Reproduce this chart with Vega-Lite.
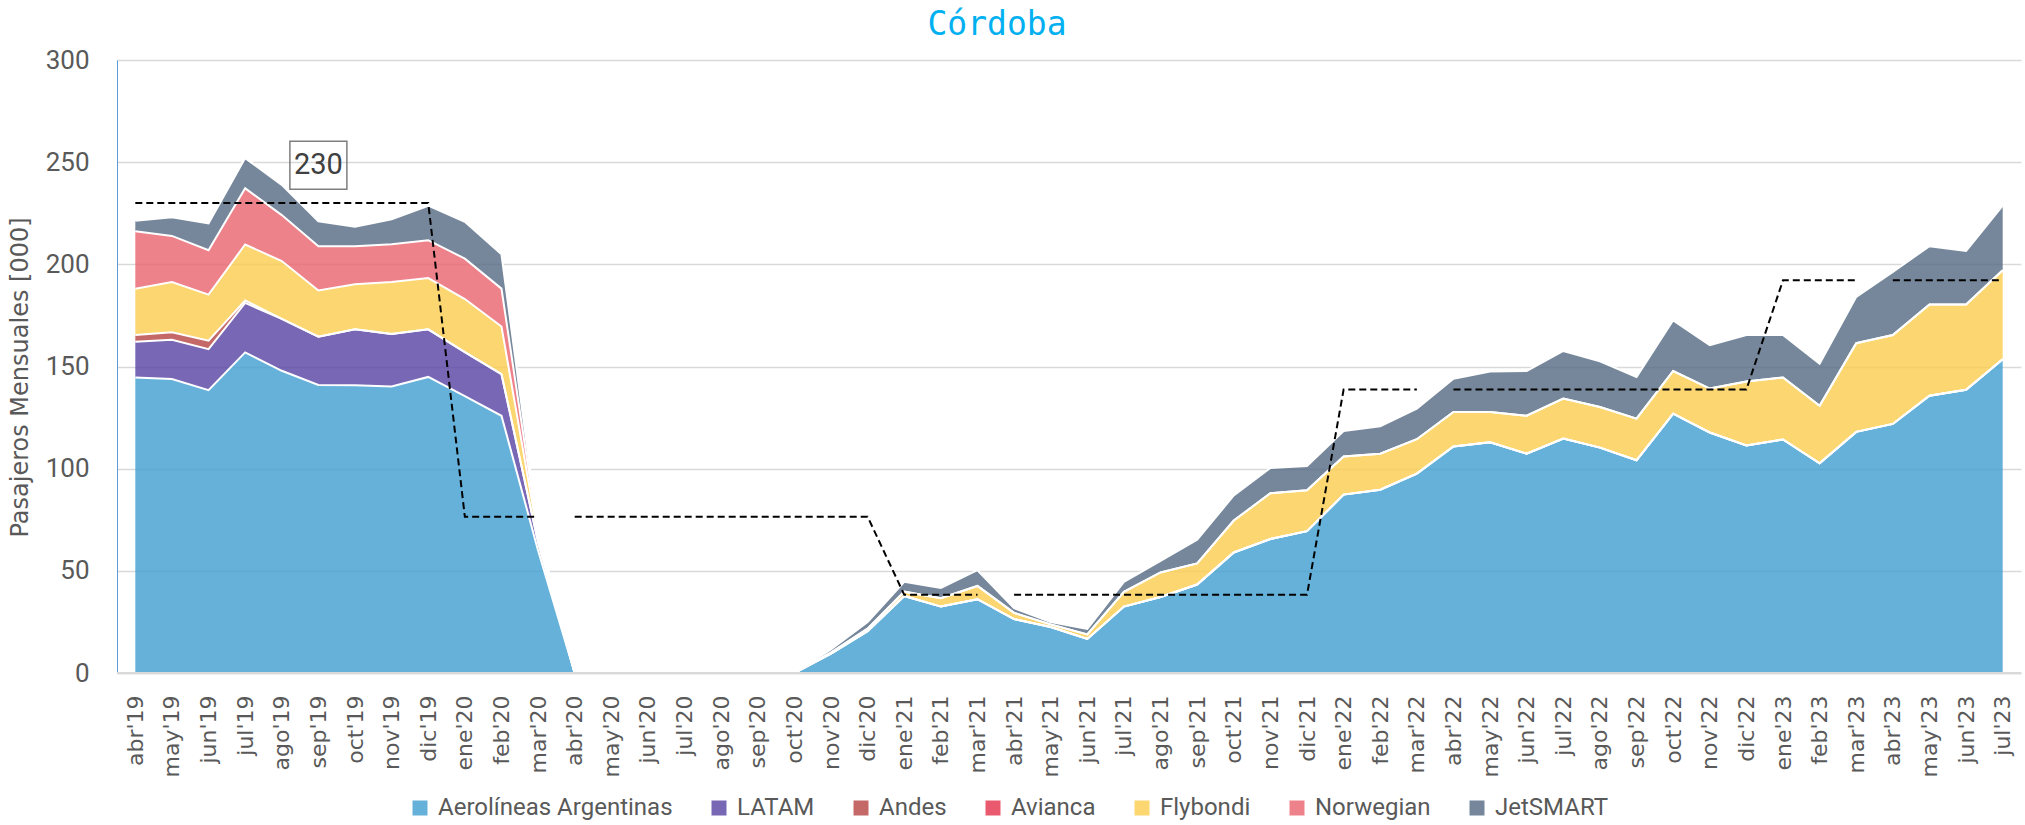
{
"$schema": "https://vega.github.io/schema/vega-lite/v6.json",
"width": 1904,
"height": 613,
"autosize": {"type": "none"},
"padding": {"left": 117, "top": 60, "right": 4, "bottom": 152},
"background": "white",
"title": {"text": "Córdoba", "font": "DejaVu Sans Mono", "fontSize": 33, "fontWeight": "normal", "color": "#00B0F0", "anchor": "middle", "frame": "group", "offset": 5, "dx": -72},
"config": {"view": {"stroke": null}},
"layer": [
{
"data": {"values": [
{"m":"abr'19","s":"Aerolíneas Argentinas","o":1,"v":144.6},
{"m":"may'19","s":"Aerolíneas Argentinas","o":1,"v":143.9},
{"m":"jun'19","s":"Aerolíneas Argentinas","o":1,"v":138.4},
{"m":"jul'19","s":"Aerolíneas Argentinas","o":1,"v":156.9},
{"m":"ago'19","s":"Aerolíneas Argentinas","o":1,"v":147.9},
{"m":"sep'19","s":"Aerolíneas Argentinas","o":1,"v":141.0},
{"m":"oct'19","s":"Aerolíneas Argentinas","o":1,"v":140.8},
{"m":"nov'19","s":"Aerolíneas Argentinas","o":1,"v":140.2},
{"m":"dic'19","s":"Aerolíneas Argentinas","o":1,"v":144.9},
{"m":"ene'20","s":"Aerolíneas Argentinas","o":1,"v":135.5},
{"m":"feb'20","s":"Aerolíneas Argentinas","o":1,"v":125.9},
{"m":"mar'20","s":"Aerolíneas Argentinas","o":1,"v":60},
{"m":"abr'20","s":"Aerolíneas Argentinas","o":1,"v":0},
{"m":"may'20","s":"Aerolíneas Argentinas","o":1,"v":0},
{"m":"jun'20","s":"Aerolíneas Argentinas","o":1,"v":0},
{"m":"jul'20","s":"Aerolíneas Argentinas","o":1,"v":0},
{"m":"ago'20","s":"Aerolíneas Argentinas","o":1,"v":0},
{"m":"sep'20","s":"Aerolíneas Argentinas","o":1,"v":0},
{"m":"oct'20","s":"Aerolíneas Argentinas","o":1,"v":0},
{"m":"nov'20","s":"Aerolíneas Argentinas","o":1,"v":9.5},
{"m":"dic'20","s":"Aerolíneas Argentinas","o":1,"v":20.5},
{"m":"ene'21","s":"Aerolíneas Argentinas","o":1,"v":37.7},
{"m":"feb'21","s":"Aerolíneas Argentinas","o":1,"v":32.5},
{"m":"mar'21","s":"Aerolíneas Argentinas","o":1,"v":36.1},
{"m":"abr'21","s":"Aerolíneas Argentinas","o":1,"v":26.4},
{"m":"may'21","s":"Aerolíneas Argentinas","o":1,"v":22.5},
{"m":"jun'21","s":"Aerolíneas Argentinas","o":1,"v":16.7},
{"m":"jul'21","s":"Aerolíneas Argentinas","o":1,"v":32.5},
{"m":"ago'21","s":"Aerolíneas Argentinas","o":1,"v":37.2},
{"m":"sep'21","s":"Aerolíneas Argentinas","o":1,"v":43.3},
{"m":"oct'21","s":"Aerolíneas Argentinas","o":1,"v":59.0},
{"m":"nov'21","s":"Aerolíneas Argentinas","o":1,"v":65.6},
{"m":"dic'21","s":"Aerolíneas Argentinas","o":1,"v":69.4},
{"m":"ene'22","s":"Aerolíneas Argentinas","o":1,"v":87.3},
{"m":"feb'22","s":"Aerolíneas Argentinas","o":1,"v":89.7},
{"m":"mar'22","s":"Aerolíneas Argentinas","o":1,"v":97.6},
{"m":"abr'22","s":"Aerolíneas Argentinas","o":1,"v":110.9},
{"m":"may'22","s":"Aerolíneas Argentinas","o":1,"v":112.9},
{"m":"jun'22","s":"Aerolíneas Argentinas","o":1,"v":107.3},
{"m":"jul'22","s":"Aerolíneas Argentinas","o":1,"v":114.7},
{"m":"ago'22","s":"Aerolíneas Argentinas","o":1,"v":110.3},
{"m":"sep'22","s":"Aerolíneas Argentinas","o":1,"v":104.1},
{"m":"oct'22","s":"Aerolíneas Argentinas","o":1,"v":126.9},
{"m":"nov'22","s":"Aerolíneas Argentinas","o":1,"v":117.7},
{"m":"dic'22","s":"Aerolíneas Argentinas","o":1,"v":111.4},
{"m":"ene'23","s":"Aerolíneas Argentinas","o":1,"v":114.3},
{"m":"feb'23","s":"Aerolíneas Argentinas","o":1,"v":102.6},
{"m":"mar'23","s":"Aerolíneas Argentinas","o":1,"v":118.0},
{"m":"abr'23","s":"Aerolíneas Argentinas","o":1,"v":121.9},
{"m":"may'23","s":"Aerolíneas Argentinas","o":1,"v":135.7},
{"m":"jun'23","s":"Aerolíneas Argentinas","o":1,"v":138.6},
{"m":"jul'23","s":"Aerolíneas Argentinas","o":1,"v":153.6},
{"m":"abr'19","s":"LATAM","o":2,"v":17.5},
{"m":"may'19","s":"LATAM","o":2,"v":19.2},
{"m":"jun'19","s":"LATAM","o":2,"v":20.1},
{"m":"jul'19","s":"LATAM","o":2,"v":24.2},
{"m":"ago'19","s":"LATAM","o":2,"v":25.4},
{"m":"sep'19","s":"LATAM","o":2,"v":23.6},
{"m":"oct'19","s":"LATAM","o":2,"v":27.4},
{"m":"nov'19","s":"LATAM","o":2,"v":25.7},
{"m":"dic'19","s":"LATAM","o":2,"v":23.3},
{"m":"ene'20","s":"LATAM","o":2,"v":21.5},
{"m":"feb'20","s":"LATAM","o":2,"v":20.4},
{"m":"mar'20","s":"LATAM","o":2,"v":4},
{"m":"abr'20","s":"LATAM","o":2,"v":0},
{"m":"abr'19","s":"Andes","o":3,"v":3.3},
{"m":"may'19","s":"Andes","o":3,"v":3.6},
{"m":"jun'19","s":"Andes","o":3,"v":4.1},
{"m":"jul'19","s":"Andes","o":3,"v":1.2},
{"m":"ago'19","s":"Andes","o":3,"v":0},
{"m":"abr'19","s":"Flybondi","o":5,"v":22.6},
{"m":"may'19","s":"Flybondi","o":5,"v":24.6},
{"m":"jun'19","s":"Flybondi","o":5,"v":22.6},
{"m":"jul'19","s":"Flybondi","o":5,"v":27.4},
{"m":"ago'19","s":"Flybondi","o":5,"v":28.3},
{"m":"sep'19","s":"Flybondi","o":5,"v":22.6},
{"m":"oct'19","s":"Flybondi","o":5,"v":22.0},
{"m":"nov'19","s":"Flybondi","o":5,"v":25.4},
{"m":"dic'19","s":"Flybondi","o":5,"v":25.1},
{"m":"ene'20","s":"Flybondi","o":5,"v":26.0},
{"m":"feb'20","s":"Flybondi","o":5,"v":23.3},
{"m":"mar'20","s":"Flybondi","o":5,"v":3},
{"m":"abr'20","s":"Flybondi","o":5,"v":0},
{"m":"may'20","s":"Flybondi","o":5,"v":0},
{"m":"jun'20","s":"Flybondi","o":5,"v":0},
{"m":"jul'20","s":"Flybondi","o":5,"v":0},
{"m":"ago'20","s":"Flybondi","o":5,"v":0},
{"m":"sep'20","s":"Flybondi","o":5,"v":0},
{"m":"oct'20","s":"Flybondi","o":5,"v":0},
{"m":"nov'20","s":"Flybondi","o":5,"v":0.5},
{"m":"dic'20","s":"Flybondi","o":5,"v":1.2},
{"m":"ene'21","s":"Flybondi","o":5,"v":2.1},
{"m":"feb'21","s":"Flybondi","o":5,"v":4.1},
{"m":"mar'21","s":"Flybondi","o":5,"v":6.5},
{"m":"abr'21","s":"Flybondi","o":5,"v":3.0},
{"m":"may'21","s":"Flybondi","o":5,"v":1.3},
{"m":"jun'21","s":"Flybondi","o":5,"v":2.2},
{"m":"jul'21","s":"Flybondi","o":5,"v":7.2},
{"m":"ago'21","s":"Flybondi","o":5,"v":12.0},
{"m":"sep'21","s":"Flybondi","o":5,"v":10.3},
{"m":"oct'21","s":"Flybondi","o":5,"v":15.6},
{"m":"nov'21","s":"Flybondi","o":5,"v":22.4},
{"m":"dic'21","s":"Flybondi","o":5,"v":20.0},
{"m":"ene'22","s":"Flybondi","o":5,"v":18.7},
{"m":"feb'22","s":"Flybondi","o":5,"v":17.6},
{"m":"mar'22","s":"Flybondi","o":5,"v":16.8},
{"m":"abr'22","s":"Flybondi","o":5,"v":16.8},
{"m":"may'22","s":"Flybondi","o":5,"v":14.8},
{"m":"jun'22","s":"Flybondi","o":5,"v":18.6},
{"m":"jul'22","s":"Flybondi","o":5,"v":19.6},
{"m":"ago'22","s":"Flybondi","o":5,"v":19.9},
{"m":"sep'22","s":"Flybondi","o":5,"v":20.4},
{"m":"oct'22","s":"Flybondi","o":5,"v":20.9},
{"m":"nov'22","s":"Flybondi","o":5,"v":21.5},
{"m":"dic'22","s":"Flybondi","o":5,"v":31.3},
{"m":"ene'23","s":"Flybondi","o":5,"v":30.3},
{"m":"feb'23","s":"Flybondi","o":5,"v":28.2},
{"m":"mar'23","s":"Flybondi","o":5,"v":43.4},
{"m":"abr'23","s":"Flybondi","o":5,"v":43.5},
{"m":"may'23","s":"Flybondi","o":5,"v":44.7},
{"m":"jun'23","s":"Flybondi","o":5,"v":41.8},
{"m":"jul'23","s":"Flybondi","o":5,"v":43.5},
{"m":"abr'19","s":"Norwegian","o":6,"v":28.2},
{"m":"may'19","s":"Norwegian","o":6,"v":22.6},
{"m":"jun'19","s":"Norwegian","o":6,"v":21.7},
{"m":"jul'19","s":"Norwegian","o":6,"v":27.5},
{"m":"ago'19","s":"Norwegian","o":6,"v":22.5},
{"m":"sep'19","s":"Norwegian","o":6,"v":21.7},
{"m":"oct'19","s":"Norwegian","o":6,"v":18.7},
{"m":"nov'19","s":"Norwegian","o":6,"v":18.5},
{"m":"dic'19","s":"Norwegian","o":6,"v":18.5},
{"m":"ene'20","s":"Norwegian","o":6,"v":19.8},
{"m":"feb'20","s":"Norwegian","o":6,"v":18.5},
{"m":"mar'20","s":"Norwegian","o":6,"v":1.5},
{"m":"abr'20","s":"Norwegian","o":6,"v":0},
{"m":"abr'19","s":"JetSMART","o":7,"v":5.1},
{"m":"may'19","s":"JetSMART","o":7,"v":9.1},
{"m":"jun'19","s":"JetSMART","o":7,"v":13.1},
{"m":"jul'19","s":"JetSMART","o":7,"v":14.8},
{"m":"ago'19","s":"JetSMART","o":7,"v":14.8},
{"m":"sep'19","s":"JetSMART","o":7,"v":12.2},
{"m":"oct'19","s":"JetSMART","o":7,"v":9.5},
{"m":"nov'19","s":"JetSMART","o":7,"v":12.2},
{"m":"dic'19","s":"JetSMART","o":7,"v":16.9},
{"m":"ene'20","s":"JetSMART","o":7,"v":18.0},
{"m":"feb'20","s":"JetSMART","o":7,"v":16.8},
{"m":"mar'20","s":"JetSMART","o":7,"v":1.5},
{"m":"abr'20","s":"JetSMART","o":7,"v":0},
{"m":"may'20","s":"JetSMART","o":7,"v":0},
{"m":"jun'20","s":"JetSMART","o":7,"v":0},
{"m":"jul'20","s":"JetSMART","o":7,"v":0},
{"m":"ago'20","s":"JetSMART","o":7,"v":0},
{"m":"sep'20","s":"JetSMART","o":7,"v":0},
{"m":"oct'20","s":"JetSMART","o":7,"v":0},
{"m":"nov'20","s":"JetSMART","o":7,"v":1.5},
{"m":"dic'20","s":"JetSMART","o":7,"v":3.2},
{"m":"ene'21","s":"JetSMART","o":7,"v":4.8},
{"m":"feb'21","s":"JetSMART","o":7,"v":5.0},
{"m":"mar'21","s":"JetSMART","o":7,"v":7.7},
{"m":"abr'21","s":"JetSMART","o":7,"v":2.3},
{"m":"may'21","s":"JetSMART","o":7,"v":1.1},
{"m":"jun'21","s":"JetSMART","o":7,"v":2.7},
{"m":"jul'21","s":"JetSMART","o":7,"v":4.9},
{"m":"ago'21","s":"JetSMART","o":7,"v":5.7},
{"m":"sep'21","s":"JetSMART","o":7,"v":11.6},
{"m":"oct'21","s":"JetSMART","o":7,"v":12.3},
{"m":"nov'21","s":"JetSMART","o":7,"v":12.3},
{"m":"dic'21","s":"JetSMART","o":7,"v":11.9},
{"m":"ene'22","s":"JetSMART","o":7,"v":12.4},
{"m":"feb'22","s":"JetSMART","o":7,"v":13.4},
{"m":"mar'22","s":"JetSMART","o":7,"v":15.0},
{"m":"abr'22","s":"JetSMART","o":7,"v":16.3},
{"m":"may'22","s":"JetSMART","o":7,"v":19.9},
{"m":"jun'22","s":"JetSMART","o":7,"v":21.9},
{"m":"jul'22","s":"JetSMART","o":7,"v":23.3},
{"m":"ago'22","s":"JetSMART","o":7,"v":22.3},
{"m":"sep'22","s":"JetSMART","o":7,"v":20.4},
{"m":"oct'22","s":"JetSMART","o":7,"v":24.8},
{"m":"nov'22","s":"JetSMART","o":7,"v":21.2},
{"m":"dic'22","s":"JetSMART","o":7,"v":22.7},
{"m":"ene'23","s":"JetSMART","o":7,"v":20.8},
{"m":"feb'23","s":"JetSMART","o":7,"v":20.5},
{"m":"mar'23","s":"JetSMART","o":7,"v":22.7},
{"m":"abr'23","s":"JetSMART","o":7,"v":30.9},
{"m":"may'23","s":"JetSMART","o":7,"v":28.5},
{"m":"jun'23","s":"JetSMART","o":7,"v":26.1},
{"m":"jul'23","s":"JetSMART","o":7,"v":31.6}
]},
"mark": {"type": "area", "fillOpacity": 0.8, "line": {"stroke": "white", "strokeWidth": 2}},
"encoding": {
"x": {"field": "m", "type": "ordinal",
"sort": ["abr'19","may'19","jun'19","jul'19","ago'19","sep'19","oct'19","nov'19","dic'19","ene'20","feb'20","mar'20","abr'20","may'20","jun'20","jul'20","ago'20","sep'20","oct'20","nov'20","dic'20","ene'21","feb'21","mar'21","abr'21","may'21","jun'21","jul'21","ago'21","sep'21","oct'21","nov'21","dic'21","ene'22","feb'22","mar'22","abr'22","may'22","jun'22","jul'22","ago'22","sep'22","oct'22","nov'22","dic'22","ene'23","feb'23","mar'23","abr'23","may'23","jun'23","jul'23"],
"scale": {"type": "point", "padding": 0.5, "domain": ["abr'19","may'19","jun'19","jul'19","ago'19","sep'19","oct'19","nov'19","dic'19","ene'20","feb'20","mar'20","abr'20","may'20","jun'20","jul'20","ago'20","sep'20","oct'20","nov'20","dic'20","ene'21","feb'21","mar'21","abr'21","may'21","jun'21","jul'21","ago'21","sep'21","oct'21","nov'21","dic'21","ene'22","feb'22","mar'22","abr'22","may'22","jun'22","jul'22","ago'22","sep'22","oct'22","nov'22","dic'22","ene'23","feb'23","mar'23","abr'23","may'23","jun'23","jul'23"]},
"axis": {"title": null, "labelAngle": -90, "labelFont": "DejaVu Sans", "labelFontSize": 22, "labelColor": "#595959", "labelPadding": 22, "ticks": false, "tickSize": 0, "domainColor": "#D9D9D9", "domainWidth": 1.5, "grid": false, "labelOverlap": false}},
"y": {"field": "v", "type": "quantitative", "stack": "zero", "scale": {"domain": [0, 300]},
"axis": {"title": "Pasajeros Mensuales [000]", "titleFont": "DejaVu Sans", "titleFontSize": 24, "titleFontWeight": "normal", "titleColor": "#595959", "titleX": -97, "titleY": 317, "titleBaseline": "middle", "titleAlign": "center", "values": [0, 50, 100, 150, 200, 250, 300], "labelFont": "Roboto", "labelFontSize": 26, "labelColor": "#595959", "labelPadding": 28, "ticks": false, "tickSize": 0, "domainColor": "#5B9BD5", "domainWidth": 1, "grid": true, "gridColor": "#D9D9D9", "gridWidth": 1.5}},
"color": {"field": "s", "type": "nominal",
"scale": {"domain": ["Aerolíneas Argentinas", "LATAM", "Andes", "Avianca", "Flybondi", "Norwegian", "JetSMART"],
"range": ["#3E9ED1", "#5641A1", "#B54242", "#E5314A", "#FBCC4C", "#E8636E", "#546982"]},
"legend": {"title": null, "orient": "none", "legendX": 291, "legendY": 736, "direction": "horizontal", "labelFont": "Roboto", "labelFontSize": 24, "labelLimit": 400, "labelColor": "#595959", "symbolType": "square", "symbolSize": 225, "symbolStrokeWidth": 0, "symbolOpacity": 0.8, "columnPadding": 34, "labelOffset": 6}},
"order": {"field": "o", "type": "quantitative"}
}
},
{
"data": {"values": [
{"m":"abr'19","v":230,"g":"a"},{"m":"may'19","v":230,"g":"a"},{"m":"jun'19","v":230,"g":"a"},{"m":"jul'19","v":230,"g":"a"},{"m":"ago'19","v":230,"g":"a"},{"m":"sep'19","v":230,"g":"a"},{"m":"oct'19","v":230,"g":"a"},{"m":"nov'19","v":230,"g":"a"},{"m":"dic'19","v":230,"g":"a"},{"m":"ene'20","v":76.5,"g":"a"},{"m":"feb'20","v":76.5,"g":"a"},{"m":"mar'20","v":76.5,"g":"a"},
{"m":"abr'20","v":76.5,"g":"b"},{"m":"may'20","v":76.5,"g":"b"},{"m":"jun'20","v":76.5,"g":"b"},{"m":"jul'20","v":76.5,"g":"b"},{"m":"ago'20","v":76.5,"g":"b"},{"m":"sep'20","v":76.5,"g":"b"},{"m":"oct'20","v":76.5,"g":"b"},{"m":"nov'20","v":76.5,"g":"b"},{"m":"dic'20","v":76.5,"g":"b"},{"m":"ene'21","v":38.3,"g":"b"},{"m":"feb'21","v":38.3,"g":"b"},{"m":"mar'21","v":38.3,"g":"b"},
{"m":"abr'21","v":38.3,"g":"c"},{"m":"may'21","v":38.3,"g":"c"},{"m":"jun'21","v":38.3,"g":"c"},{"m":"jul'21","v":38.3,"g":"c"},{"m":"ago'21","v":38.3,"g":"c"},{"m":"sep'21","v":38.3,"g":"c"},{"m":"oct'21","v":38.3,"g":"c"},{"m":"nov'21","v":38.3,"g":"c"},{"m":"dic'21","v":38.3,"g":"c"},{"m":"ene'22","v":138.7,"g":"c"},{"m":"feb'22","v":138.7,"g":"c"},{"m":"mar'22","v":138.7,"g":"c"},
{"m":"abr'22","v":138.7,"g":"d"},{"m":"may'22","v":138.7,"g":"d"},{"m":"jun'22","v":138.7,"g":"d"},{"m":"jul'22","v":138.7,"g":"d"},{"m":"ago'22","v":138.7,"g":"d"},{"m":"sep'22","v":138.7,"g":"d"},{"m":"oct'22","v":138.7,"g":"d"},{"m":"nov'22","v":138.7,"g":"d"},{"m":"dic'22","v":138.7,"g":"d"},{"m":"ene'23","v":192.2,"g":"d"},{"m":"feb'23","v":192.2,"g":"d"},{"m":"mar'23","v":192.2,"g":"d"},
{"m":"abr'23","v":192.2,"g":"e"},{"m":"may'23","v":192.2,"g":"e"},{"m":"jun'23","v":192.2,"g":"e"},{"m":"jul'23","v":192.2,"g":"e"}
]},
"mark": {"type": "line", "color": "black", "strokeWidth": 2, "strokeDash": [7, 4]},
"encoding": {
"x": {"field": "m", "type": "ordinal",
"sort": ["abr'19","may'19","jun'19","jul'19","ago'19","sep'19","oct'19","nov'19","dic'19","ene'20","feb'20","mar'20","abr'20","may'20","jun'20","jul'20","ago'20","sep'20","oct'20","nov'20","dic'20","ene'21","feb'21","mar'21","abr'21","may'21","jun'21","jul'21","ago'21","sep'21","oct'21","nov'21","dic'21","ene'22","feb'22","mar'22","abr'22","may'22","jun'22","jul'22","ago'22","sep'22","oct'22","nov'22","dic'22","ene'23","feb'23","mar'23","abr'23","may'23","jun'23","jul'23"]},
"y": {"field": "v", "type": "quantitative"},
"detail": {"field": "g", "type": "nominal"}
}
},
{
"data": {"values": [{"v": 0}]},
"mark": {"type": "rule", "color": "#D9D9D9", "strokeWidth": 2},
"encoding": {"y": {"field": "v", "type": "quantitative"}}
},
{
"data": {"values": [{"m": "sep'19", "v": 248.5, "t": "230"}]},
"layer": [
{"mark": {"type": "point", "shape": "M-1,-0.84H1V0.84H-1Z", "size": 3249, "filled": false, "stroke": "#7F7F7F", "strokeWidth": 1.5, "opacity": 1},
"encoding": {"x": {"field": "m", "type": "ordinal", "sort": ["abr'19","may'19","jun'19","jul'19","ago'19","sep'19","oct'19","nov'19","dic'19","ene'20","feb'20","mar'20","abr'20","may'20","jun'20","jul'20","ago'20","sep'20","oct'20","nov'20","dic'20","ene'21","feb'21","mar'21","abr'21","may'21","jun'21","jul'21","ago'21","sep'21","oct'21","nov'21","dic'21","ene'22","feb'22","mar'22","abr'22","may'22","jun'22","jul'22","ago'22","sep'22","oct'22","nov'22","dic'22","ene'23","feb'23","mar'23","abr'23","may'23","jun'23","jul'23"]}, "y": {"field": "v", "type": "quantitative"}}},
{"mark": {"type": "text", "font": "Roboto", "fontSize": 29, "color": "#404040", "align": "center", "baseline": "middle"},
"encoding": {"x": {"field": "m", "type": "ordinal", "sort": ["abr'19","may'19","jun'19","jul'19","ago'19","sep'19","oct'19","nov'19","dic'19","ene'20","feb'20","mar'20","abr'20","may'20","jun'20","jul'20","ago'20","sep'20","oct'20","nov'20","dic'20","ene'21","feb'21","mar'21","abr'21","may'21","jun'21","jul'21","ago'21","sep'21","oct'21","nov'21","dic'21","ene'22","feb'22","mar'22","abr'22","may'22","jun'22","jul'22","ago'22","sep'22","oct'22","nov'22","dic'22","ene'23","feb'23","mar'23","abr'23","may'23","jun'23","jul'23"]}, "y": {"field": "v", "type": "quantitative"}, "text": {"field": "t"}}}
]
}
]
}
